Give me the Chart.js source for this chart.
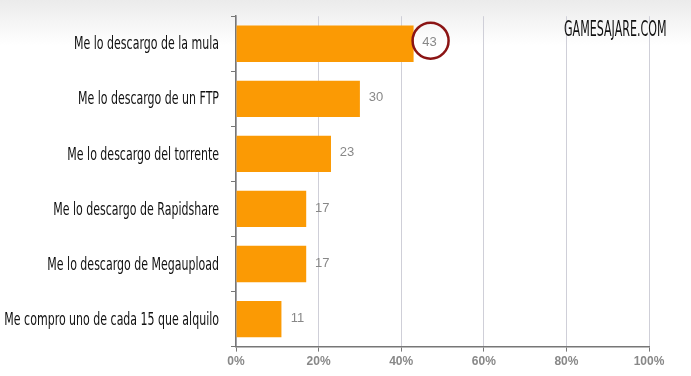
<!DOCTYPE html>
<html>
<head>
<meta charset="utf-8">
<script src="https://cdn.jsdelivr.net/npm/chart.js@4"></script>
<style>
  html, body { margin: 0; padding: 0; }
  body { width: 691px; height: 376px; background: linear-gradient(#ebebeb, #ffffff 45px); }
  #wrap { position: relative; width: 691px; height: 376px; }
  #marca { position: absolute; left: 564px; top: 16px; font: 22px "Liberation Sans Narrow", "DejaVu Sans Condensed", sans-serif;
           color: #111; transform: scaleX(0.56); transform-origin: left top; white-space: nowrap; }
</style>
</head>
<body>
<div id="wrap">
  <canvas id="barras" width="691" height="376"></canvas>
  <div id="marca">GAMESAJARE.COM</div>
</div>
<script>
// Datos de la encuesta
var categorias = ['Me lo descargo de la mula', 'Me lo descargo de un FTP', 'Me lo descargo del torrente',
                  'Me lo descargo de Rapidshare', 'Me lo descargo de Megaupload', 'Me compro uno de cada 15 que alquilo'];
var valores = [43, 30, 23, 17, 17, 11];
var ticksX = [0, 20, 40, 60, 80, 100];

// Plugin: nombres estrechos a la izquierda, valores al lado de cada barra y circulo en el primero
var etiquetas = {
    id: 'etiquetas',
    afterDraw: function (chart) {
        var ctx = chart.ctx;
        var meta = chart.getDatasetMeta(0);
        var ejeY = chart.scales.y;
        ctx.save();
        ctx.font = '18px "Liberation Sans Narrow", "DejaVu Sans Condensed", sans-serif';
        ctx.fillStyle = '#111';
        ctx.textAlign = 'right';
        ctx.textBaseline = 'middle';
        categorias.forEach(function (c, i) {
            ctx.save();
            ctx.translate(ejeY.right - 17, ejeY.getPixelForTick(i) + 1);
            ctx.scale(0.68, 1);
            ctx.fillText(c, 0, 0);
            ctx.restore();
        });

        ctx.font = '13px "Liberation Sans", Arial, sans-serif';
        ctx.fillStyle = '#888';
        ctx.textAlign = 'center';
        meta.data.forEach(function (bar, i) {
            var x = bar.x + 16;
            ctx.fillText(valores[i], x, bar.y - 1);
            if (i === 0) {
                ctx.beginPath();
                ctx.strokeStyle = '#8b1414';
                ctx.lineWidth = 2.5;
                ctx.arc(x + 1, bar.y - 3, 18, 0, Math.PI * 2);
                ctx.stroke();
            }
        });
        ctx.restore();
    }
};

var ctx = document.getElementById('barras').getContext('2d');
var chart = new Chart(ctx, {
    type: 'bar',
    data: {
        labels: categorias,
        datasets: [{
            data: valores,
            backgroundColor: '#fb9a04',
            borderWidth: 0,
            categoryPercentage: 0.66,
            barPercentage: 1
        }]
    },
    plugins: [etiquetas],
    options: {
        indexAxis: 'y',
        responsive: false,
        animation: false,
        layout: { padding: { top: 11, right: 42, left: 0, bottom: 4 } },
        plugins: {
            legend: { display: false },
            tooltip: { enabled: false }
        },
        scales: {
            x: {
                min: 0,
                max: 100,
                afterBuildTicks: function (scale) {
                    scale.ticks = ticksX.map(function (v) { return { value: v }; });
                },
                ticks: {
                    callback: function (v) { return v + '%'; },
                    color: '#888',
                    font: { size: 12, weight: 'bold', family: 'Arial, "Liberation Sans", sans-serif' },
                    padding: 3,
                    maxRotation: 0
                },
                grid: { color: '#cfcfd8', tickColor: '#777', tickLength: 5 },
                border: { color: '#777', width: 1.5 }
            },
            y: {
                afterFit: function (scale) { scale.width = 236; },
                ticks: {
                    color: 'rgba(0,0,0,0)',
                    font: { size: 12 },
                    padding: 9
                },
                grid: { offset: true, drawOnChartArea: false, tickColor: '#777', tickLength: 5 },
                border: { color: '#777', width: 1.5 }
            }
        }
    }
});
</script>
</body>
</html>
